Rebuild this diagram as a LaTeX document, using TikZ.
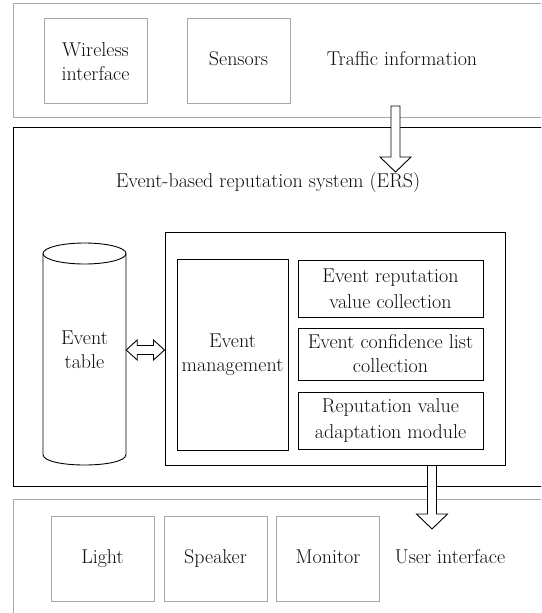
\documentclass[tikz,border=0pt]{standalone}
\usepackage{fontspec}
\usetikzlibrary{calc}
\definecolor{framegray}{gray}{0.66}
\definecolor{inkgray}{gray}{0.05}
\tikzset{
    every node/.style={text=inkgray, align=center, font=\fontsize{20}{24}\selectfont},
    graybox/.style={draw=framegray, line width=0.9pt, minimum width=103pt, minimum height=85pt, text height=14pt, text depth=5pt},
    blackbox/.style={draw=black, line width=1pt, inner sep=1pt},
    fatarrow/.style={draw=black, line width=0.9pt, fill=white},
}
\newcommand\DownArrow[2]{%
    \draw[fatarrow] let \p1=(#1), \p2=(#2) in
        (\x1-4.5pt,\y1) -- (\x1+4.5pt,\y1) -- (\x1+4.5pt,\y2+15pt) -- (\x1+15.5pt,\y2+15pt)
        -- (\x1,\y2) -- (\x1-15.5pt,\y2+15pt) -- (\x1-4.5pt,\y2+15pt) -- cycle;
}
\newcommand\BothArrow[2]{%
    \draw[fatarrow] let \p1=(#1), \p2=(#2) in
        (\x1,\y1) -- (\x1+11pt,\y1+10pt) -- (\x1+11pt,\y1+4.5pt) -- (\x2-11pt,\y1+4.5pt)
        -- (\x2-11pt,\y1+10pt) -- (\x2,\y1) -- (\x2-11pt,\y1-10pt) -- (\x2-11pt,\y1-4.5pt)
        -- (\x1+11pt,\y1-4.5pt) -- (\x1+11pt,\y1-10pt) -- cycle;
}

\begin{document}
\begin{tikzpicture}[x=1pt,y=-1pt]
    \useasboundingbox (0,0) rectangle (541,613);
    \clip (0,0) rectangle (541,613);

    % traffic information
    \draw[framegray, line width=0.9pt] (13,3) rectangle (560,117);
    \node[graybox, text height=44pt] (wireless) at (95.5,60.5) {Wireless\\interface};
    \node[graybox] (sensors) at (238.5,60.5) {Sensors};
    \node[text height=14pt, text depth=5pt] (traffic) at (402,60.5) {Traffic information};
    \coordinate (trafficOut) at (395.5,106);

    % ERS
    \draw[black, line width=1pt] (13,127) rectangle (560,486);
    \node (ers) at (268,183) {Event-based reputation system (ERS)};
    \coordinate (ersIn) at (395.5,172);
    \draw[line width=0.9pt] (84.5,253.5) ellipse [x radius=41.5, y radius=10.5];
    \draw[line width=0.9pt] (43,253.5) -- (43,454.5) .. controls (43,468.5) and (126,468.5) .. (126,454.5) -- (126,253.5);
    \node[minimum width=83pt, minimum height=200pt] (table) at (84.5,350) {Event\\table};
    \node[blackbox, minimum width=340pt, minimum height=233pt] (core) at (335,348.5) {};
    \node[blackbox, minimum width=111pt, minimum height=191pt] (manage) at (232.5,354.5) {Event\\management};
    \node[blackbox, minimum width=185pt, minimum height=57pt, font=\fontsize{20}{26}\selectfont] (repval) at (390.5,288.5) {Event reputation\\value collection};
    \node[blackbox, minimum width=185pt, minimum height=52pt] (conflist) at (390.5,354) {Event confidence list\\collection};
    \node[blackbox, minimum width=185pt, minimum height=57pt, font=\fontsize{20}{26}\selectfont] (adapt) at (390.5,420.5) {Reputation value\\adaptation module};
    \BothArrow{table.east}{core.west}

    % user interface
    \draw[framegray, line width=0.9pt] (13,499) rectangle (560,640);
    \node[graybox] (light) at (102.5,558.5) {Light};
    \node[graybox] (speaker) at (215.5,558.5) {Speaker};
    \node[graybox] (monitor) at (328,558.5) {Monitor};
    \node[text height=14pt, text depth=5pt] (ui) at (450,558.5) {User interface};
    \coordinate (uiIn) at (432,529);

    \DownArrow{trafficOut}{ersIn}
    \DownArrow{core.south -| uiIn}{uiIn}
\end{tikzpicture}
\end{document}
